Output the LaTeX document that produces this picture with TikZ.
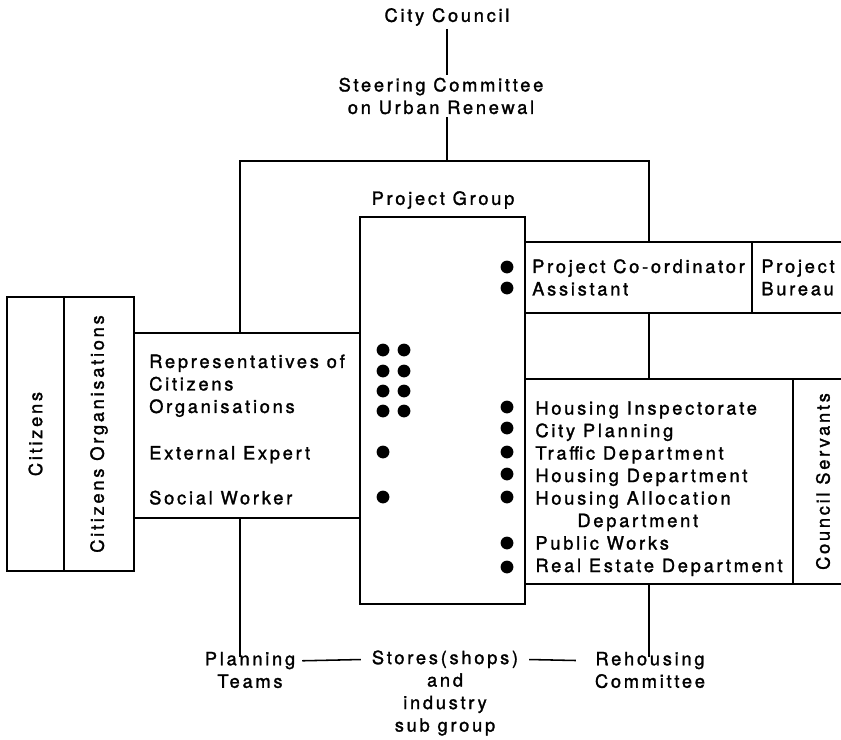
\documentclass[tikz,border=0pt]{standalone}
\usepackage{fontspec}
\setmainfont[LetterSpace=15,FakeBold=1.5]{TeX Gyre Heros}
\begin{document}
\begin{tikzpicture}[
  font=\fontsize{13}{16}\selectfont,
  box/.style={rectangle, draw, line width=1.4pt},
  txt/.style={align=center, inner sep=2pt},
  link/.style={line width=1.1pt}
]
\useasboundingbox (0,0) rectangle (21.025,-18.475);
\clip (0,0) rectangle (21.025,-18.475);

% Top of the hierarchy
\node[txt] (council) at (11.175,-0.425) {City Council};
\node[txt] (steer) at (11.025,-2.4) {Steering Committee\\on Urban Renewal};

% Citizens side
\node[box, rotate=90, minimum width=6.85cm, minimum height=1.425cm] (cit) at (0.8875,-10.85) {Citizens};
\node[box, rotate=90, minimum width=6.85cm, minimum height=1.75cm] (citorg) at (2.475,-10.85) {Citizens Organisations};
\node[box, align=left, minimum width=5.65cm, minimum height=4.625cm] (rep) at (6.175,-10.6375) {\rule{0pt}{0.54cm}Representatives of\\Citizens\\Organisations\\[0.6cm]External Expert\\[0.56cm]Social Worker};

% Project group
\node[txt] (pglabel) at (11.075,-5.0) {Project Group};
\node[box, minimum width=4.125cm, minimum height=9.675cm] (pg) at (11.0625,-10.2625) {};

% Council side
\node[box, align=left, minimum width=5.675cm, minimum height=1.775cm] (coord) at (15.9625,-6.9375) {Project Co-ordinator\\Assistant};
\node[box, align=left, minimum width=2.3cm, minimum height=1.775cm] (bureau) at (19.95,-6.9375) {Project\\Bureau};
\node[box, align=left, minimum width=6.7cm, minimum height=5.125cm] (housing) at (16.475,-12.0375) {\rule{0pt}{0.69cm}Housing Inspectorate\\City Planning\\Traffic Department\\Housing Department\\Housing Allocation\\\hspace*{1.05cm}Department\\Public Works\\Real Estate Department};
\node[box, rotate=90, minimum width=5.125cm, minimum height=1.5cm] (servants) at (20.575,-12.0375) {Council Servants};

% Sub groups
\node[txt] (plan) at (6.25,-16.75) {Planning\\Teams};
\node[txt] (stores) at (11.125,-17.325) {Stores(shops)\\and\\industry\\sub group};
\node[txt] (rehous) at (16.25,-16.75) {Rehousing\\Committee};

% Members
\foreach \y in {-8.75,-9.275,-9.775,-10.275}
  \fill (9.575,\y) circle (0.16) (10.1,\y) circle (0.16);
\foreach \y in {-11.3,-12.425}
  \fill (9.575,\y) circle (0.16);
\foreach \y in {-6.675,-7.2,-10.175,-10.7,-11.3,-11.85,-12.425,-13.575,-14.175}
  \fill (12.675,\y) circle (0.16);

% Lines
\coordinate (barL) at (6.0,-4.025);
\coordinate (barR) at (16.225,-4.025);
\draw[link] (council.south) -- (council.south |- steer.north);
\draw[link] (council.south |- steer.south) -- (council.south |- barL);
\draw[link] (barL |- rep.north) -- (barL) -- (barR) -- (barR |- coord.north);
\draw[link] (barR |- coord.south) -- (barR |- housing.north);
\draw[link, shorten >=-0.2cm] (barL |- rep.south) -- (barL |- plan.north);
\draw[link, shorten >=-0.2cm] (barR |- housing.south) -- (barR |- rehous.north);
\draw[link, shorten <=0.1cm, shorten >=0.2cm] ([yshift=-0.3cm]plan.north east) -- ([yshift=-0.3cm]stores.north west);
\draw[link, shorten <=0.2cm, shorten >=0.4cm] ([yshift=-0.3cm]stores.north east) -- ([yshift=-0.3cm]rehous.north west);

\end{tikzpicture}
\end{document}
